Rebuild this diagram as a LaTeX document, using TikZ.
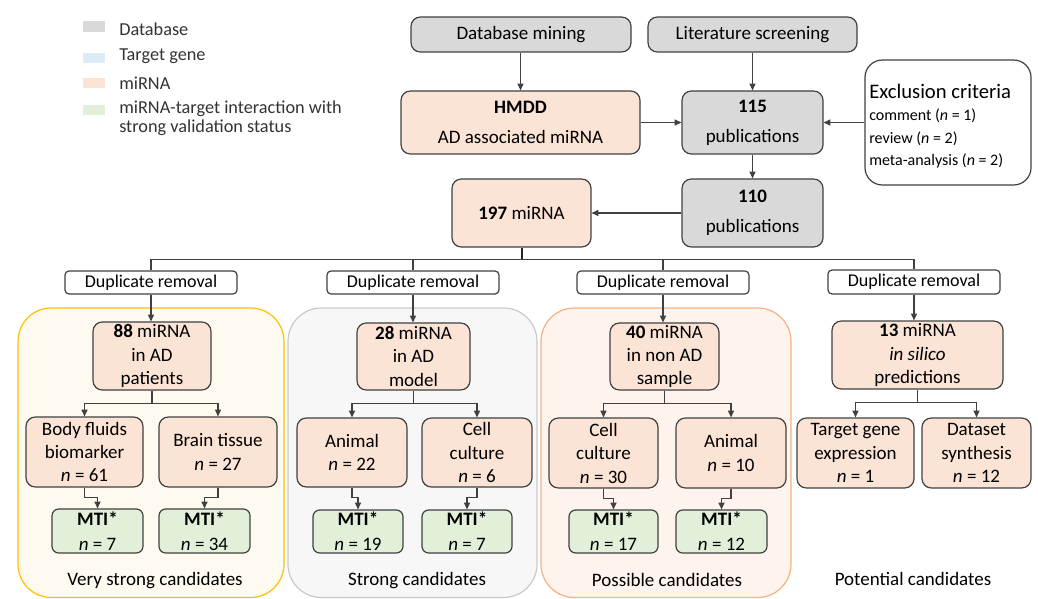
\documentclass[tikz,border=0pt]{standalone}
\usepackage{fontspec}
\setmainfont{Carlito}
\usetikzlibrary{arrows.meta}
\definecolor{dbgray}{HTML}{D9D9D9}
\definecolor{tgblue}{HTML}{DDEBF7}
\definecolor{mirna}{HTML}{FBE4D5}
\definecolor{mtigreen}{HTML}{E2F0D9}
\definecolor{edge}{HTML}{404040}
\definecolor{gyfill}{HTML}{FFFAEF}
\definecolor{gyline}{HTML}{FFC000}
\definecolor{ggfill}{HTML}{F7F7F7}
\definecolor{ggline}{HTML}{C9C9C9}
\definecolor{gofill}{HTML}{FEF4ED}
\definecolor{goline}{HTML}{F4B183}
\newcommand\bx[7]{\node[#6, minimum width={(#4-#2)*0.75pt}, minimum height={(#5-#3)*0.75pt}] (#1) at ({(#2+#4)/2},{(#3+#5)/2}) {#7};}
\tikzset{
  base/.style={draw=edge, line width=0.9pt, rounded corners=7pt, inner sep=0pt, align=center, font=\fontsize{14.25}{17.6}\selectfont},
  topbox/.style={base, font=\fontsize{14.25}{22.5}\selectfont},
  dbbox/.style={topbox, fill=dbgray},
  mtop/.style={topbox, fill=mirna},
  mbox/.style={base, fill=mirna},
  mtibox/.style={base, fill=mtigreen, rounded corners=5pt, font=\fontsize{14.25}{18.75}\selectfont},
  dupbox/.style={base, rounded corners=3pt, fill=white, font=\fontsize{13.5}{16}\selectfont},
  arr/.style={draw=edge, line width=0.8pt, -{Triangle[length=5pt,width=4.5pt]}},
  ln/.style={draw=edge, line width=0.8pt},
  lgsq/.style={minimum width=16.5pt, minimum height=8pt, inner sep=0pt},
  lgtxt/.style={anchor=west, inner sep=0pt, align=left, font=\fontsize{13.7}{14.5}\selectfont, text=black!80},
  glabel/.style={inner sep=0pt, font=\fontsize{14.25}{17}\selectfont}
}
\begin{document}
\begin{tikzpicture}[x=0.75pt,y=-0.75pt]
\useasboundingbox (0,0) rectangle (1038,599);
% groups
\draw[draw=gyline, fill=gyfill, line width=0.9pt, rounded corners=25pt] (18,308) rectangle (284,597.5);
\draw[draw=ggline, fill=ggfill, line width=0.9pt, rounded corners=25pt] (288,308) rectangle (537,597.5);
\draw[draw=goline, fill=gofill, line width=0.9pt, rounded corners=25pt] (541,308) rectangle (791,597.5);
% legend
\node[lgsq, fill=dbgray] (lg1) at (94,26.5) {};
\node[lgsq, fill=tgblue] (lg2) at (94,58) {};
\node[lgsq, fill=mirna] (lg3) at (94,83) {};
\node[lgsq, fill=mtigreen] (lg4) at (94,110) {};
\node[lgtxt] (lt1) at (119,29) {Database};
\node[lgtxt] (lt2) at (119,56) {Target gene};
\node[lgtxt] (lt3) at (119,83) {miRNA};
\node[lgtxt] (lt4) at (119,118.5) {miRNA-target interaction with\\strong validation status};
% top
\bx{dbm}{411}{17}{631}{52}{dbbox}{Database mining}
\bx{lit}{648}{17}{857}{52}{dbbox}{Literature screening}
\bx{hmdd}{401}{91}{640}{154}{mtop}{\textbf{HMDD}\\AD associated miRNA}
\bx{p115}{682}{91}{823}{154}{dbbox}{\textbf{115}\\publications}
\bx{p110}{682}{179}{823}{247}{dbbox}{\textbf{110}\\publications}
\bx{m197}{452}{179}{591}{247}{mtop}{\textbf{197} miRNA}
\node[draw=edge, line width=0.9pt, rounded corners=13pt, fill=white, minimum width={166*0.75pt}, minimum height={125*0.75pt}] (excl) at (948,122.5) {};
\node[anchor=west, inner sep=0pt, font=\fontsize{15.5}{16}\selectfont] (exct) at (869,91) {Exclusion criteria};
\node[anchor=west, inner sep=0pt, font=\fontsize{12}{13}\selectfont] (ex1) at (869,116) {comment (\textit{n} = 1)};
\node[anchor=west, inner sep=0pt, font=\fontsize{12}{13}\selectfont] (ex2) at (869,138.5) {review (\textit{n} = 2)};
\node[anchor=west, inner sep=0pt, font=\fontsize{12}{13}\selectfont] (ex3) at (869,160.5) {meta-analysis (\textit{n} = 2)};
\draw[arr] (dbm.south -| hmdd.north) -- (hmdd.north);
\draw[arr] (lit.south) -- (p115.north);
\draw[arr] (hmdd.east) -- (p115.west);
\draw[arr] (excl.west) -- (excl.west -| p115.east);
\draw[arr] (p115.south) -- (p110.north);
\draw[arr] (p110.west) -- (m197.east);
% duplicate removal
\bx{d1}{65}{271}{237}{294}{dupbox}{Duplicate removal}
\bx{d2}{327}{271}{499}{294}{dupbox}{Duplicate removal}
\bx{d3}{577}{271}{749}{294}{dupbox}{Duplicate removal}
\bx{d4}{828}{270}{1000}{294}{dupbox}{Duplicate removal}
\draw[draw=black!85, line width=1.5pt] (m197.south) -- ++(0,12) coordinate (tr);
\draw[ln] (tr) -| (d1.north);
\draw[ln] (tr) -| (d2.north);
\draw[ln] (tr) -| (d3.north);
\draw[ln] (tr) -| (d4.north);
% row 1
\bx{r1a}{93}{322}{211}{390}{mbox}{\textbf{88} miRNA\\in AD\\patients}
\bx{r1b}{357}{323}{470}{390}{mbox}{\textbf{28} miRNA\\in AD\\model}
\bx{r1c}{610}{323}{719}{390}{mbox}{\textbf{40} miRNA\\in non AD\\sample}
\bx{r1d}{832}{321}{1003}{389}{mbox}{\textbf{13} miRNA\\\textit{in silico}\\predictions}
\draw[arr] (d1.south) -- (d1.south |- r1a.north);
\draw[arr] (d2.south) -- (d2.south |- r1b.north);
\draw[arr] (d3.south) -- (d3.south |- r1c.north);
\draw[arr] (d4.south) -- (d4.south |- r1d.north);
% row 2
\bx{bf}{26}{417}{143}{487}{mbox}{Body fluids\\biomarker\\\textit{n} = 61}
\bx{bt}{159}{417}{277}{487}{mbox}{Brain tissue\\\textit{n} = 27}
\bx{an1}{297}{418}{407}{487}{mbox}{Animal\\\textit{n} = 22}
\bx{cc1}{422}{418}{532}{487}{mbox}{Cell\\culture\\\textit{n} = 6}
\bx{cc2}{549}{418}{658}{488}{mbox}{Cell\\culture\\\textit{n} = 30}
\bx{an2}{676}{418}{786}{488}{mbox}{Animal\\\textit{n} = 10}
\bx{tge}{797}{418}{914}{488}{mbox}{Target gene\\expression\\\textit{n} = 1}
\bx{dss}{922}{418}{1031}{488}{mbox}{Dataset\\synthesis\\\textit{n} = 12}
\foreach \p/\l/\r in {r1a/bf/bt, r1b/an1/cc1, r1c/cc2/an2, r1d/tge/dss}{
  \draw[ln] (\p.south) -- ++(0,13) coordinate (br-\p);
  \draw[arr] (br-\p) -| (\l.north);
  \draw[arr] (br-\p) -| (\r.north);
}
% row 3
\bx{mt1}{52}{509}{143}{553}{mtibox}{\textbf{MTI*}\\\textit{n} = 7}
\bx{mt2}{159}{509}{250}{553}{mtibox}{\textbf{MTI*}\\\textit{n} = 34}
\bx{mt3}{313}{510}{403}{553}{mtibox}{\textbf{MTI*}\\\textit{n} = 19}
\bx{mt4}{422}{510}{512}{553}{mtibox}{\textbf{MTI*}\\\textit{n} = 7}
\bx{mt5}{569}{510}{658}{553}{mtibox}{\textbf{MTI*}\\\textit{n} = 17}
\bx{mt6}{676}{510}{767}{553}{mtibox}{\textbf{MTI*}\\\textit{n} = 12}
\foreach \a/\b in {bf/mt1, bt/mt2, an1/mt3, cc1/mt4, cc2/mt5, an2/mt6}{
  \draw[arr] (\a.south) -- ++(0,10) -| (\b.north);
}
% group labels
\node[glabel] (g1) at (155,581) {Very strong candidates};
\node[glabel] (g2) at (417,581) {Strong candidates};
\node[glabel] (g3) at (667,580) {Possible candidates};
\node[glabel] (g4) at (913,579) {Potential candidates};
\end{tikzpicture}
\end{document}
